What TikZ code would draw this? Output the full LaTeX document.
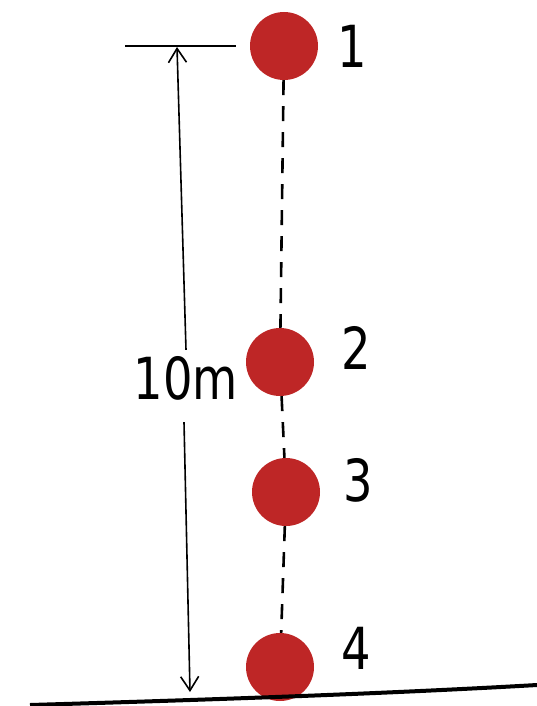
\documentclass[tikz,border=0pt]{standalone}
\usepackage{fontspec}
\setmainfont{DejaVu Sans}[FakeStretch=0.9]
\usetikzlibrary{arrows.meta}
\begin{document}
\begin{tikzpicture}[x=1pt,y=-1pt,
  ball/.style={circle,fill=red!70!black!85,draw=none,minimum size=68pt,inner sep=0pt},
  lbl/.style={font=\fontsize{58}{58}\selectfont\addfontfeatures{FakeStretch=0.8},inner sep=0pt},
  ink/.style={line width=1.6pt,black},
  dashline/.style={line width=2.6pt,black,dash pattern=on 15pt off 11pt}]
\useasboundingbox (0,0) rectangle (537,706);
\node[ball] (b1) at (284,46) {};
\node[ball] (b2) at (280,362) {};
\node[ball] (b3) at (286,492) {};
\node[ball] (b4) at (280,667) {};
\draw[dashline] (b1) -- (b2);
\draw[dashline] (b2) -- (b3);
\draw[dashline] (b3) -- (b4);
\node[lbl] (l1) at (352,46) {1};
\node[lbl] (l2) at (356,348) {2};
\node[lbl] (l3) at (358,480) {3};
\node[lbl] (l4) at (356,648) {4};
\node[lbl] (dim) at (186,378) {10m};
\coordinate (ttopL) at (125,46);
\coordinate (ttopR) at (236,46);
\coordinate (atop) at (177,47);
\coordinate (abot) at (190,692);
\coordinate (gL) at (30,705);
\coordinate (gR) at (537,685);
\draw[line width=2.6pt] (ttopL) -- (ttopR);
\draw[ink,-{Straight Barb[length=14pt,width=18pt]}] (dim.north) ++(0,-6) -- (atop);
\draw[ink,-{Straight Barb[length=14pt,width=18pt]}] (dim.south) ++(-2,22) -- (abot);
\draw[line width=4pt] (gL) .. controls (200,700) and (380,694) .. (gR);
\end{tikzpicture}
\end{document}
